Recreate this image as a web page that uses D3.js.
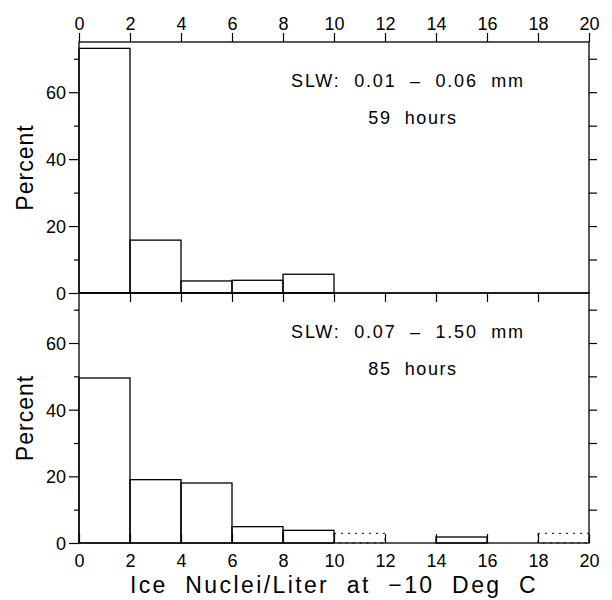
<!DOCTYPE html>
<html>
<head>
<meta charset="utf-8">
<script src="https://cdn.jsdelivr.net/npm/d3@7"></script>
<style>
  body { margin: 0; background: #fff; }
  text { font-family: "Liberation Sans", Arial, Helvetica, sans-serif; fill: #000; }
</style>
</head>
<body>
<script>
// histogram bins (ice nuclei per liter), left edges
const binStarts = [0, 2, 4, 6, 8, 10, 12, 14, 16, 18];
const binWidth = 2;
// percent of hours in each bin
const upperPercent = [73.1, 15.8, 3.6, 3.8, 5.6, 0, 0, 0, 0, 0];
const lowerPercent = [49.5, 19.0, 18.0, 4.9, 3.8, 2.9, 0, 1.8, 0, 2.9];
const upperLabels = ["SLW:  0.01  \u2013  0.06  mm", "59  hours"];
const lowerLabels = ["SLW:  0.07  \u2013  1.50  mm", "85  hours"];
const xTicks = [0, 2, 4, 6, 8, 10, 12, 14, 16, 18, 20];
const yMajor = [0, 20, 40, 60];
const yMinor = [10, 30, 50, 70];
const yRight = [10, 20, 30, 40, 50, 60, 70];

const width = 612, height = 600;
const left = 79, right = 589;
const upperTop = 42, mid = 293, lowerBottom = 543;

const svg = d3.create('svg')
    .attr('width', width)
    .attr('height', height)
    .attr('viewBox', [0, 0, width, height]);

const x = d3.scaleLinear().domain([0, 20]).range([left, right]);
const yUp = d3.scaleLinear().domain([0, 75]).range([mid, upperTop]);
const yLo = d3.scaleLinear().domain([0, 75]).range([lowerBottom, mid]);

// dotted bins in the lower panel (faint in the original)
const faint = new Set([10, 18]);

function panel(y, values, labels, isLower) {
  const g = svg.append('g');
  const bins = binStarts.map((s, i) => ({ s, v: values[i] })).filter(d => d.v > 0);

  g.selectAll('rect.bar')
    .data(bins)
    .join('rect')
      .attr('class', 'bar')
      .attr('x', d => x(d.s))
      .attr('y', d => y(d.v))
      .attr('width', d => x(d.s + binWidth) - x(d.s))
      .attr('height', d => y(0) - y(d.v))
      .attr('fill', 'none')
      .attr('stroke', '#000')
      .attr('stroke-width', d => isLower && faint.has(d.s) ? 1 : 1.3)
      .attr('stroke-dasharray', d => isLower && faint.has(d.s) ? '2,5' : null);

  // left axis: labelled majors, short minors
  g.append('g')
      .attr('transform', `translate(${left},0)`)
      .call(d3.axisLeft(y).tickValues(yMajor).tickSize(10).tickPadding(3).tickFormat(d3.format('d')))
      .call(a => a.select('.domain').remove())
      .call(a => a.selectAll('text').attr('font-size', 18).attr('dy', '0.36em'));
  g.append('g')
      .attr('transform', `translate(${left},0)`)
      .call(d3.axisLeft(y).tickValues(yMinor).tickSize(5).tickFormat(''))
      .call(a => a.select('.domain').remove());

  // right axis: ticks every 10, outward
  g.append('g')
      .attr('transform', `translate(${right},0)`)
      .call(d3.axisRight(y).tickValues(yRight).tickSize(8).tickFormat(''))
      .call(a => a.select('.domain').remove());

  g.selectAll('line').attr('stroke-width', 1.2);

  // frame
  const [y0, y1] = y.range();
  g.append('rect')
      .attr('x', left).attr('y', y1)
      .attr('width', right - left).attr('height', y0 - y1)
      .attr('fill', 'none').attr('stroke', '#000').attr('stroke-width', 1.3);

  // annotations
  g.append('text')
      .attr('x', 408).attr('y', y1 + 45)
      .attr('text-anchor', 'middle')
      .attr('font-size', 18)
      .attr('letter-spacing', 1.8)
      .style('white-space', 'pre')
      .text(labels[0]);
  g.append('text')
      .attr('x', 413).attr('y', y1 + 82)
      .attr('text-anchor', 'middle')
      .attr('font-size', 18)
      .attr('letter-spacing', 1.6)
      .style('white-space', 'pre')
      .text(labels[1]);

  // y title
  g.append('text')
      .attr('transform', `translate(33,${(y0 + y1) / 2}) rotate(-90)`)
      .attr('text-anchor', 'middle')
      .attr('font-size', 23)
      .attr('letter-spacing', 1)
      .text('Percent');
}

panel(yUp, upperPercent, upperLabels, false);
panel(yLo, lowerPercent, lowerLabels, true);

// top axis with labels
svg.append('g')
    .attr('transform', `translate(0,${upperTop})`)
    .call(d3.axisTop(x).tickValues(xTicks).tickSize(9).tickPadding(3))
    .call(a => a.select('.domain').remove())
    .call(a => a.selectAll('text').attr('font-size', 18));

// shared middle line: ticks pointing down
svg.append('g')
    .attr('transform', `translate(0,${mid})`)
    .call(d3.axisBottom(x).tickValues(xTicks.slice(1, -1)).tickSize(9).tickFormat(''))
    .call(a => a.select('.domain').remove());

// bottom axis: ticks inward, labels below
svg.append('g')
    .attr('transform', `translate(0,${lowerBottom})`)
    .call(d3.axisBottom(x).tickValues(xTicks).tickSize(-9).tickPadding(11))
    .call(a => a.select('.domain').remove())
    .call(a => a.selectAll('text').attr('font-size', 18));

svg.selectAll('.tick line').attr('stroke-width', 1.2);

svg.append('text')
    .attr('x', (left + right) / 2)
    .attr('y', 593)
    .attr('text-anchor', 'middle')
    .attr('font-size', 23)
    .attr('letter-spacing', 2.4)
    .style('white-space', 'pre')
    .text('Ice  Nuclei/Liter  at  \u221210  Deg  C');

document.body.append(svg.node());
</script>
</body>
</html>
